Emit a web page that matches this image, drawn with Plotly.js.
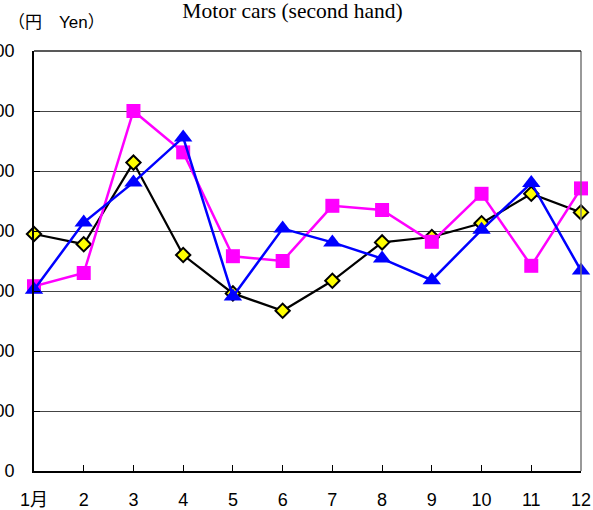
<!DOCTYPE html>
<html><head><meta charset="utf-8">
<script src="https://cdn.plot.ly/plotly-3.0.1.min.js"></script>
<style>html,body{margin:0;padding:0;background:#fff}#c{width:593px;height:510px}</style>
</head><body><div id="c"></div>
<script>
const months = ['1月','2','3','4','5','6','7','8','9','10','11','12'];
const seriesBlack = [3950,3780,5140,3600,2960,2670,3170,3810,3900,4130,4620,4310];
const seriesPink  = [3080,3300,6000,5310,3580,3500,4420,4350,3820,4620,3420,4710];
const seriesBlue  = [3020,4140,4810,5560,2910,4040,3810,3540,3180,4020,4800,3340];
const yTicks = [0,1000,2000,3000,4000,5000,6000,7000];
const yTickText = ['0','1,000','2,000','3,000','4,000','5,000','6,000','7,000'];

const traces = [
  {x: months, y: seriesBlack, type:'scatter', mode:'lines+markers', cliponaxis:false,
   line:{color:'#000000', width:2.2},
   marker:{symbol:'diamond', size:11, color:'#FFFF00', line:{color:'#000000', width:2}}},
  {x: months, y: seriesPink, type:'scatter', mode:'lines+markers', cliponaxis:false,
   line:{color:'#FF00FF', width:2.5},
   marker:{symbol:'square', size:14, color:'#FF00FF', line:{width:0}}},
  {x: months, y: seriesBlue, type:'scatter', mode:'lines+markers', cliponaxis:false,
   line:{color:'#0000FF', width:2.5},
   marker:{symbol:'triangle-up', size:16, color:'#0000FF', line:{width:0}}}
];

const layout = {
  width:593, height:510,
  margin:{l:34, r:12, t:51, b:39},
  paper_bgcolor:'#ffffff', plot_bgcolor:'#ffffff',
  showlegend:false,
  font:{family:'Liberation Sans, Arial, Noto Sans CJK JP, sans-serif', color:'#000', size:18},
  title:{text:'Motor cars (second hand)', font:{family:'Liberation Serif, Times New Roman, serif', size:21.5, color:'#000'},
         x:0.4726, xref:'paper', xanchor:'center', y:0.98, yref:'container', yanchor:'middle'},
  xaxis:{type:'category', range:[0,11], showgrid:false, zeroline:false,
         showline:true, linecolor:'#000', linewidth:2, mirror:false,
         ticks:'inside', ticklen:6, tickcolor:'#000', tickwidth:1,
         tickfont:{size:18, family:'Liberation Sans, Arial, Noto Sans CJK JP, sans-serif'},
         ticklabelstandoff:11},
  yaxis:{range:[0,7000], tickvals:yTicks, ticktext:yTickText, showgrid:true, gridcolor:'#444', gridwidth:1,
         zeroline:false, showline:true, linecolor:'#000', linewidth:2,
         ticks:'inside', ticklen:6, tickcolor:'#000', tickwidth:1,
         tickfont:{size:18, family:'Liberation Sans, Arial, sans-serif'},
         ticklabelstandoff:14},
  shapes:[
    {type:'line', xref:'paper', yref:'paper', x0:1, x1:1, y0:0, y1:1, line:{color:'#777', width:1.5}},
    {type:'line', xref:'paper', yref:'paper', x0:0, x1:1, y0:1, y1:1, line:{color:'#222', width:1.5}}
  ],
  annotations:[
    {text:'（円　Yen）', xref:'paper', yref:'paper', x:-0.052, y:1.069, xanchor:'left', yanchor:'middle',
     showarrow:false, font:{size:17, family:'Liberation Sans, Arial, Noto Sans CJK JP, sans-serif', color:'#000'}}
  ]
};
Plotly.newPlot('c', traces, layout, {displayModeBar:false, staticPlot:true});
</script></body></html>
